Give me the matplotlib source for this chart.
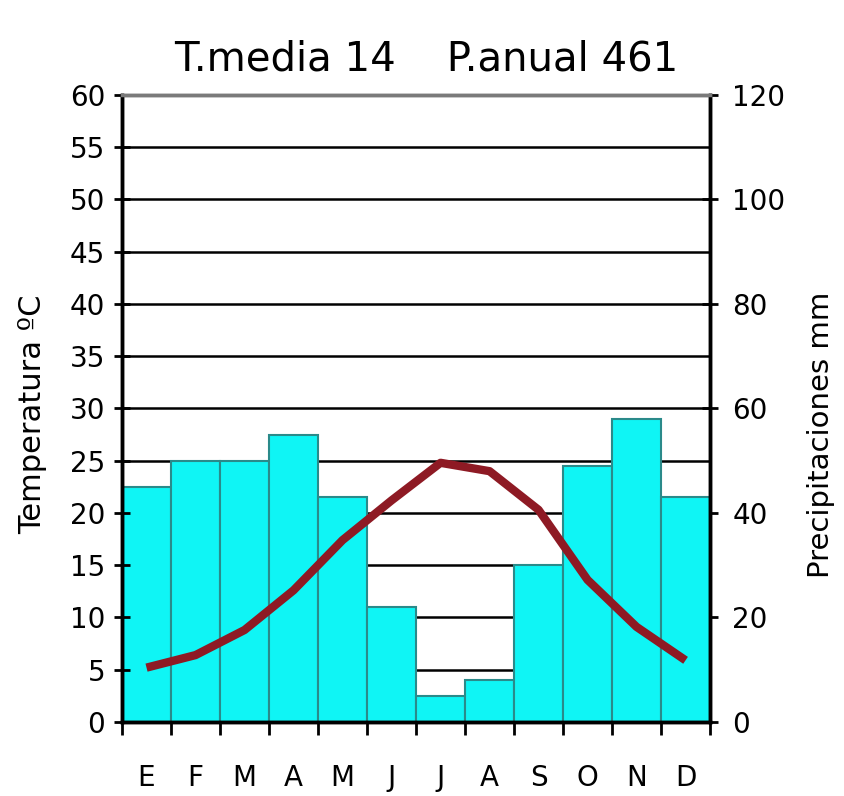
import matplotlib.pyplot as plt
import numpy as np

# climograma: temperatura (izq) y precipitacion (dcha)
months = ["E", "F", "M", "A", "M", "J", "J", "A", "S", "O", "N", "D"]
precip = [45, 50, 50, 55, 43, 22, 5, 8, 30, 49, 58, 43]
temp = [5.2, 6.4, 8.8, 12.6, 17.4, 21.2, 24.8, 24.0, 20.3, 13.6, 9.1, 5.9]
title = "T.media 14    P.anual 461"

plt.rcParams["font.family"] = ["DejaVu Sans"]

fig = plt.figure(figsize=(8.45, 7.96), dpi=100)
ax = fig.add_axes([0.1444, 0.093, 0.6959, 0.7877])
ax2 = ax.twinx()

x = np.arange(len(months))

# gridlines behind the bars (precip axis, every 10 mm = 5 ºC)
for v in range(10, 120, 10):
    ax2.axhline(v, color="black", lw=1.8, zorder=0)

ax2.bar(x, precip, width=1.0, color="#0ff5f5", edgecolor="#2a8a8a", linewidth=1.5, zorder=2)
ax2.set_ylim(0, 120)
ax2.set_yticks(range(0, 121, 20))

ax.set_zorder(ax2.get_zorder() + 1)
ax.patch.set_visible(False)
ax.plot(x, temp, color="#8e1a24", lw=6, solid_capstyle="butt", solid_joinstyle="round", zorder=3)
ax.set_ylim(0, 60)
ax.set_xlim(-0.5, 11.5)
ax.set_yticks(range(0, 61, 5))

ax.set_xticks(x)
ax.set_xticklabels(months)
ax.set_xticks(np.arange(-0.5, 12, 1), minor=True)
ax.tick_params(axis="x", which="major", length=0, pad=30, labelsize=20)
ax.tick_params(axis="x", which="minor", length=9, width=2, direction="out")
ax.tick_params(axis="y", direction="inout", length=12, width=2, labelsize=20, pad=6)
ax2.tick_params(axis="y", direction="inout", length=12, width=2, labelsize=20, pad=10)

for a in (ax, ax2):
    a.spines["left"].set_linewidth(2.5)
    a.spines["right"].set_linewidth(2.5)
    a.spines["bottom"].set_linewidth(2.5)
    a.spines["top"].set_color("#7a7a7a")
    a.spines["top"].set_linewidth(2.5)

ax.set_ylabel("Temperatura ºC", fontsize=22)
ax2.set_ylabel("Precipitaciones mm", fontsize=21)
ax.yaxis.set_label_coords(-0.128, 0.49)
ax2.yaxis.set_label_coords(1.165, 0.458)
fig.text(0.505, 0.925, title, ha="center", va="center", fontsize=29)

plt.savefig("out.png", dpi=100)
